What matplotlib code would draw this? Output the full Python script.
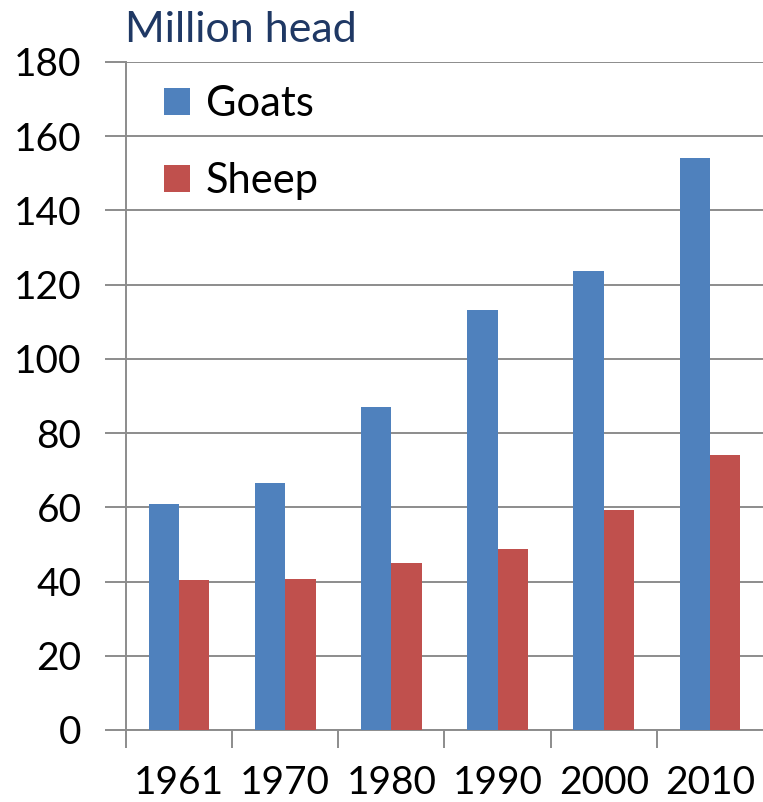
import matplotlib
matplotlib.use("Agg")
import matplotlib.pyplot as plt
import numpy as np

years = ["1961", "1970", "1980", "1990", "2000", "2010"]
goats = [60.9, 66.5, 87.0, 113.2, 123.7, 154.1]
sheep = [40.4, 40.7, 45.0, 48.8, 59.3, 74.1]
series_names = ["Goats", "Sheep"]
yticks = [0, 20, 40, 60, 80, 100, 120, 140, 160, 180]

plt.rcParams['font.family'] = ['Lato', 'DejaVu Sans']

fig = plt.figure(figsize=(7.63, 8.02), dpi=100)
ax = fig.add_axes([126/763, 1-730/802, 1-126/763, (730-62)/802])

x = np.arange(len(years))
w = 0.285
blue = "#4F81BD"
red = "#C0504D"
ax.bar(x - w/2, goats, width=w, color=blue, zorder=3, label=series_names[0])
ax.bar(x + w/2, sheep, width=w, color=red, zorder=3, label=series_names[1])

ax.set_xlim(-0.5, len(years) - 0.5)
ax.set_ylim(0, 180)
ax.set_yticks(yticks)
ax.set_yticklabels([str(v) for v in yticks], fontsize=28)
ax.yaxis.grid(True, color="#8C8C8C", linewidth=1.4, zorder=0)
ax.tick_params(axis='y', length=15, width=1.4, color="#8C8C8C", pad=17)

ax.set_xticks(x)
ax.set_xticklabels(years, fontsize=28)
ax.tick_params(axis='x', length=0, pad=25)
ax.set_xticks(np.arange(len(years)) - 0.5, minor=True)
ax.tick_params(axis='x', which='minor', length=13, width=1.4, color="#8C8C8C")

for s in ["top", "right"]:
    ax.spines[s].set_visible(False)
for s in ["left", "bottom"]:
    ax.spines[s].set_color("#8C8C8C")
    ax.spines[s].set_linewidth(1.4)

fig.text(125/763, 1-42/802, "Million head", fontsize=31, color="#1F3864", ha="left", va="baseline")

leg = ax.legend(loc="upper left", bbox_to_anchor=(0.06, 0.965), frameon=False,
                fontsize=30, handlelength=0.62, handleheight=0.62, handletextpad=0.38,
                labelspacing=0.92, borderaxespad=0, borderpad=0)

fig.savefig("out.png", dpi=100)
